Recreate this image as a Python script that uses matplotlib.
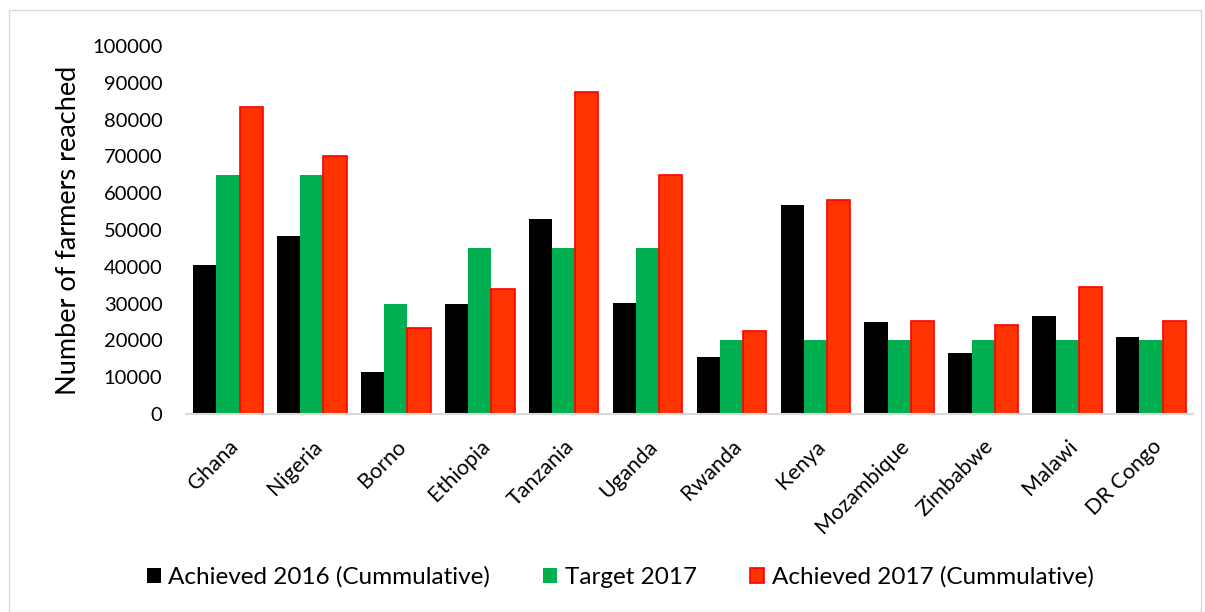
import matplotlib
matplotlib.use("Agg")
import matplotlib.pyplot as plt
import numpy as np
from matplotlib.patches import Rectangle

categories = ["Ghana", "Nigeria", "Borno", "Ethiopia", "Tanzania", "Uganda",
              "Rwanda", "Kenya", "Mozambique", "Zimbabwe", "Malawi", "DR Congo"]
achieved_2016 = [40500, 48400, 11400, 30000, 53000, 30200, 15400, 56900, 25100, 16700, 26500, 21000]
target_2017 = [65000, 65000, 30000, 45000, 45000, 45000, 20000, 20000, 20000, 20000, 20000, 20000]
achieved_2017 = [83500, 70000, 23300, 33900, 87600, 64900, 22600, 58200, 25300, 24300, 34500, 25400]
series_labels = ["Achieved 2016 (Cummulative)", "Target 2017", "Achieved 2017 (Cummulative)"]
yticks = list(range(0, 100001, 10000))

plt.rcParams['font.family'] = ['Lato', 'DejaVu Sans']

fig = plt.figure(figsize=(12.05, 6.12), dpi=100)
ax = fig.add_axes([186/1205, 1 - 414/612, (1193-186)/1205, (414-46)/612])

x = np.arange(len(categories))
w = 0.277
ax.bar(x - w, achieved_2016, w, color="#000000", label=series_labels[0])
ax.bar(x, target_2017, w, color="#00B050", label=series_labels[1])
ax.bar(x + w, achieved_2017, w, color="#FF3300", edgecolor="#FF0000", linewidth=1.2, label=series_labels[2])

ax.set_xlim(-0.5, len(categories) - 0.5)
ax.set_ylim(0, 100000)
ax.set_yticks(yticks)
ax.set_yticklabels([str(v) for v in yticks], fontsize=14.5)
ax.set_xticks(x)
ax.set_xticklabels(categories, rotation=45, ha="right", rotation_mode="anchor", fontsize=15.5)
ax.tick_params(axis="y", length=0, pad=17)
ax.tick_params(axis="x", length=0, pad=16)
for s in ["top", "right", "left"]:
    ax.spines[s].set_visible(False)
ax.spines["bottom"].set_color("#D9D9D9")
ax.spines["bottom"].set_linewidth(1.5)
ax.set_ylabel("Number of farmers reached", fontsize=19.5, labelpad=8)

leg = fig.legend(loc="center", bbox_to_anchor=(620/1205, 1 - 577/612), ncol=3, frameon=False,
                 fontsize=17.5, handlelength=0.58, handleheight=0.58, handletextpad=0.3,
                 columnspacing=2.2)

fig.patches.append(Rectangle((9/1205, 0), (1201-9)/1205, 1 - 10/612, transform=fig.transFigure,
                             fill=False, edgecolor="#D9D9D9", linewidth=1))

fig.savefig("out.png", dpi=100)
